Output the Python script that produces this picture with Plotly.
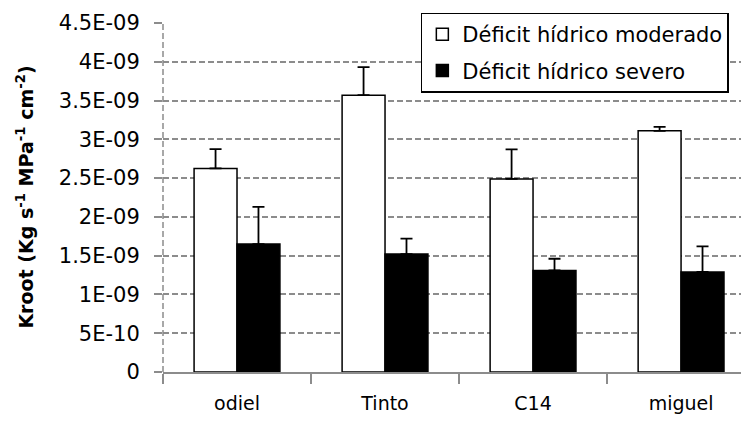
import plotly.graph_objects as go

categories = ["odiel", "Tinto", "C14", "miguel"]
moderado = [2.625e-9, 3.57e-9, 2.49e-9, 3.11e-9]
moderado_err = [0.25e-9, 0.36e-9, 0.38e-9, 0.05e-9]
severo = [1.65e-9, 1.52e-9, 1.31e-9, 1.29e-9]
severo_err = [0.48e-9, 0.20e-9, 0.15e-9, 0.33e-9]
ytick_vals = [0, 5e-10, 1e-9, 1.5e-9, 2e-9, 2.5e-9, 3e-9, 3.5e-9, 4e-9, 4.5e-9]
ytick_text = ["0", "5E-10", "1E-09", "1.5E-09", "2E-09", "2.5E-09", "3E-09", "3.5E-09", "4E-09", "4.5E-09"]

FONT = "DejaVu Sans"
GRID = "#8c8c8c"

fig = go.Figure()
fig.add_trace(go.Bar(
    x=categories, y=moderado, name="Déficit hídrico moderado", legendgroup="a",
    marker=dict(color="white", line=dict(color="black", width=1.5)),
    error_y=dict(type="data", symmetric=False, array=moderado_err,
                 arrayminus=[0] * len(moderado_err), color="black", thickness=1.8, width=6),
))
fig.add_trace(go.Bar(
    x=categories, y=severo, name="Déficit hídrico severo", legendgroup="b",
    marker=dict(color="black", line=dict(color="black", width=1.5)),
    error_y=dict(type="data", symmetric=False, array=severo_err,
                 arrayminus=[0] * len(severo_err), color="black", thickness=1.8, width=6),
))

fig.update_layout(
    width=741, height=419,
    margin=dict(l=155, r=0, t=15, b=55, autoexpand=False),
    paper_bgcolor="white", plot_bgcolor="white",
    barmode="group", bargap=0.42, bargroupgap=0,
    font=dict(family=FONT, size=19, color="black"),
    legend=dict(
        x=0.44, y=1.03, xanchor="left", yanchor="top",
        bgcolor="white", bordercolor="black", borderwidth=1.5,
        font=dict(family=FONT, size=21, color="black"),
        traceorder="grouped", tracegroupgap=6,
    ),
    showlegend=True,
)
fig.update_xaxes(
    range=[-0.5, 3.459],
    showline=True, linecolor=GRID, linewidth=1.5,
    ticks="outside", tickson="boundaries", ticklen=10, tickcolor=GRID, tickwidth=1.5,
    showgrid=False, zeroline=False, ticklabelstandoff=13,
    tickfont=dict(family=FONT, size=19),
)
fig.update_yaxes(
    range=[0, 4.5e-9],
    tickvals=ytick_vals, ticktext=ytick_text,
    showgrid=True, gridcolor=GRID, gridwidth=1.6, griddash="6px,3px",
    zeroline=False, showline=False, ticklabelstandoff=10,
    ticks="outside", ticklen=8, tickcolor=GRID, tickwidth=1.5,
    tickfont=dict(family=FONT, size=21),
)
fig.add_shape(type="line", xref="paper", yref="paper", x0=0, x1=0, y0=0, y1=1,
              line=dict(color=GRID, width=1.5, dash="6px,3px"))
fig.add_annotation(
    text="Kroot (Kg s<sup>-1</sup> MPa<sup>-1</sup> cm<sup>-2</sup>)",
    xref="paper", yref="paper", x=-0.237, y=0.5, textangle=-90,
    xanchor="center", yanchor="middle", showarrow=False,
    font=dict(family=FONT, size=19, color="black", weight="bold"),
)

fig.write_html("out.html")
